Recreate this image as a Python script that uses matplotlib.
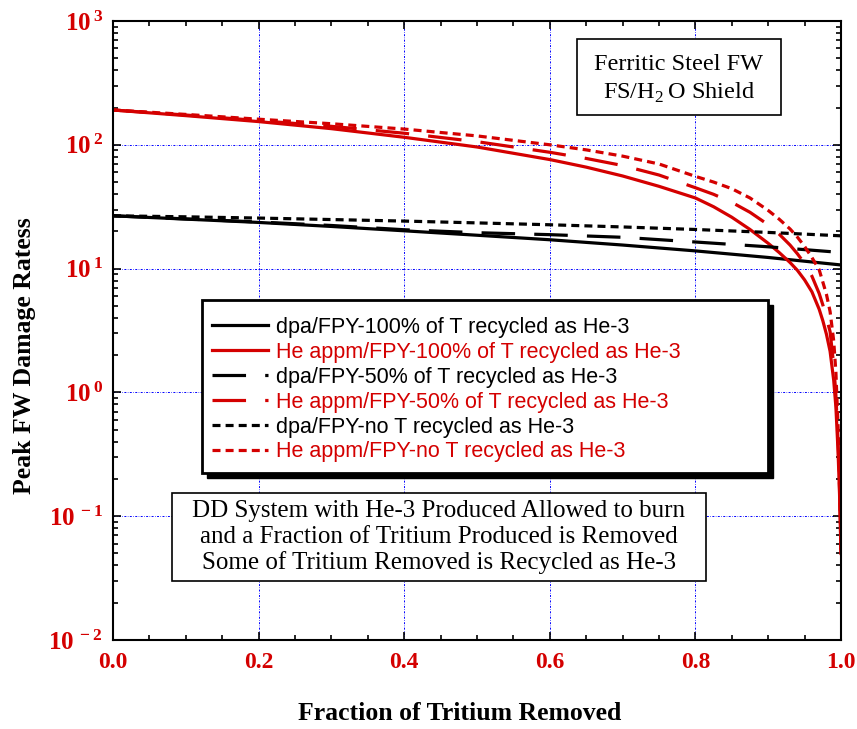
import numpy as np
import matplotlib
matplotlib.use("Agg")
import matplotlib.pyplot as plt
from matplotlib.ticker import MultipleLocator, LogLocator, FuncFormatter, NullFormatter
from matplotlib.patches import Rectangle
from matplotlib.lines import Line2D

plt.rcParams['mathtext.fontset'] = 'custom'
plt.rcParams['mathtext.rm'] = 'Liberation Serif'
plt.rcParams['mathtext.bf'] = 'Liberation Serif:bold'

# Data
x_he = [0.0, 0.1, 0.2, 0.3, 0.4, 0.5, 0.6, 0.65, 0.7, 0.75, 0.8, 0.825, 0.85,
        0.875, 0.9, 0.915, 0.93, 0.94, 0.95, 0.96, 0.97, 0.975, 0.98, 0.985,
        0.99, 0.993, 0.996, 0.998, 1.0]
he_100 = [191, 172, 154, 135, 115, 96, 76, 66, 56, 46.2, 37.2, 31.6, 26,
          20.7, 16, 13.5, 11.2, 9.7, 8.1, 6.5, 4.7, 3.8, 2.95, 2.15,
          1.25, 0.76, 0.33, 0.15, 0.05]
he_50 = [191, 174, 157, 141, 124, 106, 87, 77.6, 68, 57, 45, 39.8, 34.3,
         28.5, 22.6, 19, 15.5, 13.2, 11, 8.7, 6.3, 5.1, 4.0, 3.1,
         1.66, 0.95, 0.4, 0.17, 0.05]
he_no = [191, 176, 161, 148, 134, 118, 100, 91, 81, 70, 55.6, 50, 44.2,
         37.2, 29.5, 25.1, 20.9, 18, 15.1, 12.3, 9.8, 7.8, 6.2, 4.5,
         2.6, 1.45, 0.52, 0.2, 0.05]

x_dpa = [0.0, 0.1, 0.2, 0.3, 0.4, 0.5, 0.6, 0.7, 0.8, 0.9, 1.0]
dpa_100 = [26.7, 25.1, 23.6, 21.9, 20.2, 18.6, 17.1, 15.5, 13.9, 12.3, 10.7]
dpa_50 = [26.7, 25.2, 23.8, 22.3, 20.6, 19.5, 18.8, 17.9, 16.4, 15.0, 13.5]
dpa_no = [26.7, 26.2, 25.6, 24.9, 24.2, 23.4, 22.6, 21.7, 20.7, 19.6, 18.4]

labels = ["dpa/FPY-100% of T recycled as He-3",
          "He appm/FPY-100% of T recycled as He-3",
          "dpa/FPY-50% of T recycled as He-3",
          "He appm/FPY-50% of T recycled as He-3",
          "dpa/FPY-no T recycled as He-3",
          "He appm/FPY-no T recycled as He-3"]

RED = '#d40000'
W, H = 857, 729
LW = 2.3
solid = '-'
longdash = (0, (10.5, 6))
shortdash = (0, (2.5, 1.6))

fig = plt.figure(figsize=(W / 100, H / 100), dpi=100)
ax = fig.add_axes([113 / W, 1 - 640 / H, 728 / W, 619 / H])

ax.plot(x_dpa, dpa_100, color='black', lw=LW, ls=solid)
ax.plot(x_he, he_100, color=RED, lw=LW, ls=solid)
ax.plot(x_dpa, dpa_50, color='black', lw=LW, ls=longdash)
ax.plot(x_he, he_50, color=RED, lw=LW, ls=longdash)
ax.plot(x_dpa, dpa_no, color='black', lw=LW, ls=shortdash)
ax.plot(x_he, he_no, color=RED, lw=LW, ls=shortdash)

ax.set_yscale('log')
ax.set_xlim(0, 1)
ax.set_ylim(1e-2, 1e3)

ax.xaxis.set_major_locator(MultipleLocator(0.2))
ax.xaxis.set_minor_locator(MultipleLocator(0.05))
ax.xaxis.set_major_formatter(FuncFormatter(lambda v, p: "%.1f" % v))
ax.yaxis.set_major_locator(LogLocator(base=10, numticks=10))
ax.yaxis.set_minor_locator(LogLocator(base=10, subs=np.arange(2, 10), numticks=20))
ax.yaxis.set_minor_formatter(NullFormatter())
ax.yaxis.set_major_formatter(FuncFormatter(
    lambda v, p: r'$\mathbf{10^{\,%d}}$' % int(round(np.log10(v)))))

ax.tick_params(which='both', direction='in', top=True, right=True, width=1.2)
ax.tick_params(which='major', length=6)
ax.tick_params(which='minor', length=3.5)
ax.tick_params(axis='x', which='major', pad=9)
ax.tick_params(axis='y', which='major', pad=7)
for lab in ax.get_xticklabels():
    lab.set_fontfamily('Liberation Serif')
    lab.set_fontweight('bold')
    lab.set_fontsize(17)
    lab.set_color(RED)
for lab in ax.get_yticklabels():
    lab.set_fontsize(18)
    lab.set_color(RED)

ax.grid(which='major', color='blue', lw=0.7, ls=(0, (2, 1.5, 0.6, 1.5)))
for sp in ax.spines.values():
    sp.set_linewidth(1.5)

fig.text(25 / W, 1 - 356 / H, 'Peak FW Damage Ratess', rotation=90, ha='center',
         va='center', fontsize=18.5, fontweight='bold', family='Liberation Serif')
fig.text(460 / W, 1 - 714 / H, 'Fraction of Tritium Removed', ha='center',
         va='center', fontsize=18.5, fontweight='bold', family='Liberation Serif')


def fig_rect(x0, y0, x1, y1, **kw):
    r = Rectangle((x0 / W, 1 - y1 / H), (x1 - x0) / W, (y1 - y0) / H,
                  transform=fig.transFigure, **kw)
    fig.add_artist(r)


# top-right box
fig_rect(577, 39, 781, 115, facecolor='white', edgecolor='black', lw=1.2, zorder=2)
fig.text(679 / W, 1 - 65 / H, 'Ferritic Steel FW', ha='center', va='center',
         fontsize=17.5, family='Liberation Serif', zorder=3)
fig.text(679 / W, 1 - 93 / H, r'FS/H$_{2}\,$O Shield', ha='center', va='center',
         fontsize=17.5, family='Liberation Serif', zorder=3)

# legend box with shadow
fig_rect(207, 305, 773, 478, facecolor='black', edgecolor='black', lw=1, zorder=1.9)
fig_rect(202, 300, 768, 473, facecolor='white', edgecolor='black', lw=2, zorder=2)
handles = [Line2D([], [], color='black', lw=LW, ls=solid),
           Line2D([], [], color=RED, lw=LW, ls=solid),
           Line2D([], [], color='black', lw=LW, ls=longdash),
           Line2D([], [], color=RED, lw=LW, ls=longdash),
           Line2D([], [], color='black', lw=LW, ls=shortdash),
           Line2D([], [], color=RED, lw=LW, ls=shortdash)]
leg = fig.legend(handles, labels, loc='upper left', bbox_to_anchor=(212 / W, 1 - 317 / H),
                 bbox_transform=fig.transFigure, frameon=False, borderpad=0,
                 borderaxespad=0, handlelength=2.6, handletextpad=0.35,
                 labelspacing=0.18, prop={'family': 'Liberation Sans', 'size': 15.5},
                 labelcolor=['black', RED, 'black', RED, 'black', RED])
leg.set_zorder(3)

# bottom box
fig_rect(172, 493, 706, 581, facecolor='white', edgecolor='black', lw=1.2, zorder=2)
for txt, yy in [("DD System with He-3 Produced Allowed to burn", 511),
                ("and a Fraction of Tritium Produced is Removed", 537),
                ("Some of Tritium Removed is Recycled as He-3", 563)]:
    fig.text(439 / W, 1 - yy / H, txt, ha='center', va='center', fontsize=18,
             family='Liberation Serif', zorder=3)

fig.savefig('out.png', dpi=100)
